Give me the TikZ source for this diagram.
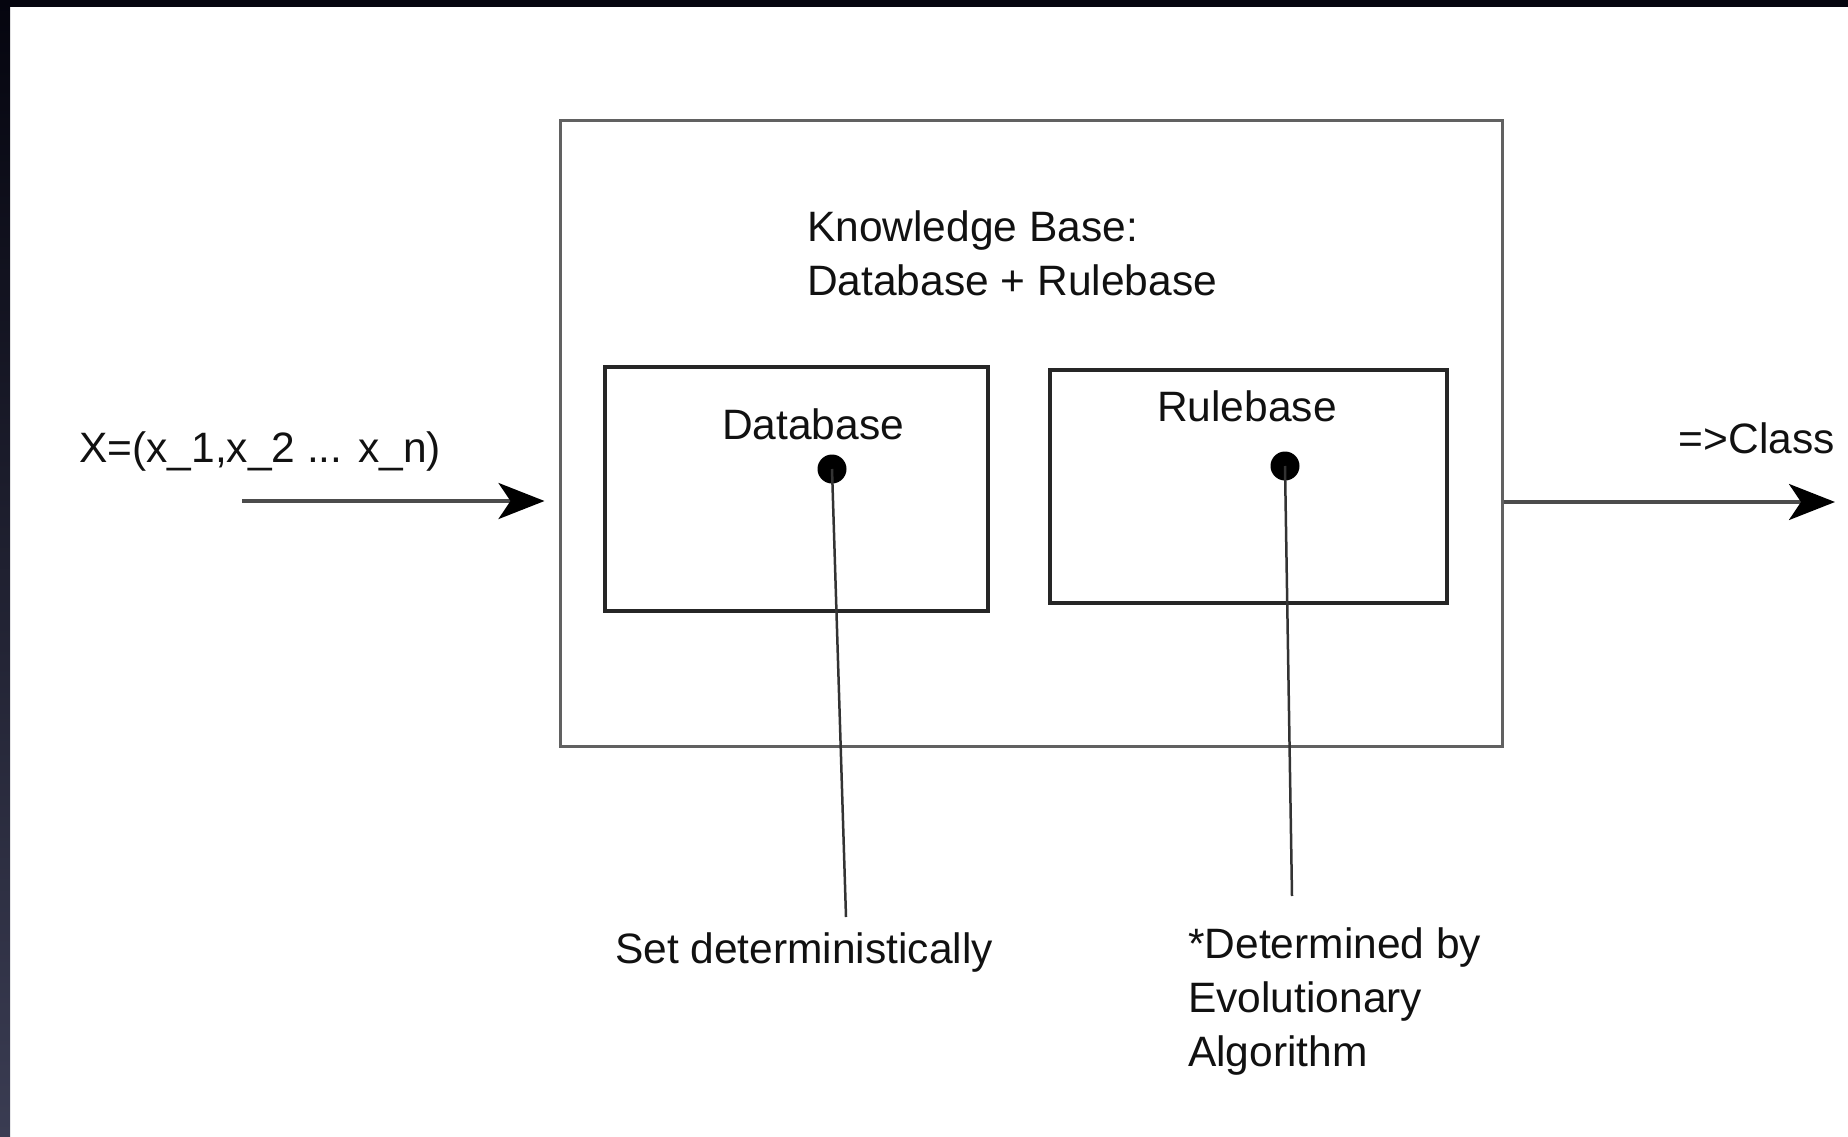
\documentclass[tikz,border=0pt]{standalone}
\usepackage{fontspec}
\setmainfont{Liberation Sans}
\usetikzlibrary{arrows.meta}
\definecolor{frame}{HTML}{05050F}
\definecolor{framelow}{HTML}{3A3C52}
\definecolor{txt}{HTML}{111111}
\begin{document}
\begin{tikzpicture}[x=1pt,y=-1pt,
  outerbox/.style={draw=black!62,line width=3pt,inner sep=0pt},
  innerbox/.style={draw=black!85,line width=3.5pt,inner sep=0pt},
  pin/.style={circle,fill=black,inner sep=0pt,minimum size=29pt},
  lbl/.style={font=\fontsize{42.5}{54}\selectfont,text=txt,inner sep=0pt},
  link/.style={draw=black!80,line width=2.5pt},
  arr/.style={draw=black!70,line width=3.5pt,-{Stealth[length=46pt,width=36pt,inset=12pt,color=black,fill=black]}}]
\useasboundingbox (0,0) rectangle (1848,1137);
% dark frame on top and left
\fill[frame] (0,0) rectangle (1848,7);
\shade[top color=frame,bottom color=framelow] (0,0) rectangle (10,1137);
% boxes
\node[outerbox,minimum width=942pt,minimum height=625pt] (kb) at (1031,433.5) {};
\node[innerbox,minimum width=383pt,minimum height=244pt] (db) at (796.5,489) {};
\node[innerbox,minimum width=397pt,minimum height=233pt] (rb) at (1248.5,486.5) {};
% texts
\node[lbl,anchor=west,align=left] (kbt) at (807,253) {Knowledge Base:\\Database + Rulebase};
\node[lbl] (dbt) at (813,424) {Database};
\node[lbl] (rbt) at (1247,406) {Rulebase};
\node[lbl,anchor=west] (xin) at (79,451) {X=(x\_1,x\_2 ... x\_n)};
\node[lbl,anchor=east] (cls) at (1835,438) {=>Class};
\node[lbl] (sd) at (804,953) {Set deterministically};
\node[lbl,anchor=west,align=left] (ea) at (1188,1002) {*Determined by\\Evolutionary\\Algorithm};
% pins and connectors
\node[pin] (dbp) at (832,469) {};
\node[pin] (rbp) at (1285,466) {};
\coordinate (sdend) at (846,917);
\coordinate (eaend) at (1292,896);
\draw[link] (dbp.center) -- (sdend);
\draw[link] (rbp.center) -- (eaend);
% arrows
\coordinate (in0) at (242,501);
\coordinate (out0) at (1835,502);
\draw[arr,shorten >=14pt] (in0) -- (in0 -| kb.west);
\draw[arr] (out0 -| kb.east) -- (out0);
\end{tikzpicture}
\end{document}
